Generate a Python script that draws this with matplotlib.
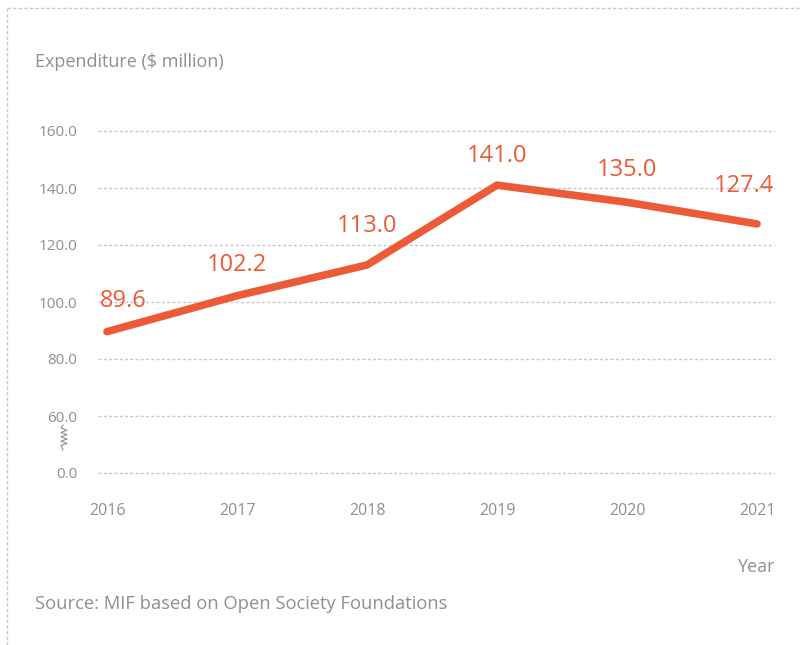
import matplotlib.pyplot as plt
from matplotlib.lines import Line2D

years = [2016, 2017, 2018, 2019, 2020, 2021]
spend = [89.6, 102.2, 113.0, 141.0, 135.0, 127.4]
tick_vals = [0, 60, 80, 100, 120, 140, 160]
tick_text = ['0.0', '60.0', '80.0', '100.0', '120.0', '140.0', '160.0']
# label nudges (points) for each data label
label_dx = [12, 0, 0, 0, 0, -9]
label_dy = [22, 22, 28, 21, 23, 27]

ORANGE = '#EC5A37'
GREY = '#8f8f8f'

plt.rcParams['font.family'] = ['Open Sans', 'DejaVu Sans']


def broken(v):
    # the axis jumps from 0 to 60, which sits one step (20) above 0
    return v if v >= 60 else v + 40


W, H = 803, 645
fig = plt.figure(figsize=(W / 100, H / 100), dpi=100)

ppu = 57 / 20.0
y_lo, y_hi = 35, 165
ax_bottom = 473 + (40 - y_lo) * ppu
ax_top = 131 - (y_hi - 160) * ppu
ax = fig.add_axes([98 / W, 1 - ax_bottom / H, (775 - 98) / W, (ax_bottom - ax_top) / H])
ax.set_ylim(y_lo, y_hi)
ax.set_xlim(2016 - 9 / 130, 2021 + 18 / 130)

for v in tick_vals:
    ax.axhline(broken(v), color='#c8c8c8', lw=1.0, ls=(0, (2.2, 1.6)), zorder=1)

ys = [broken(v) for v in spend]
ax.plot(years, ys, color=ORANGE, lw=5.5, solid_capstyle='round', solid_joinstyle='miter', zorder=3)

for x, y, v, dx, dy in zip(years, ys, spend, label_dx, label_dy):
    ax.annotate(f'{v:.1f}', (x, y), xytext=(dx, dy), textcoords='offset points',
                ha='center', va='center', color=ORANGE, fontsize=17)

ax.set_yticks([broken(v) for v in tick_vals])
ax.set_yticklabels(tick_text)
ax.set_xticks(years)
ax.set_xticklabels([str(y) for y in years])
ax.tick_params(axis='y', length=0, pad=15, labelsize=11, labelcolor=GREY)
ax.tick_params(axis='x', length=0, pad=11, labelsize=11.5, labelcolor=GREY)
for s in ax.spines.values():
    s.set_visible(False)

fig.text(35 / W, 1 - 62 / H, 'Expenditure ($ million)', ha='left', va='center', fontsize=13, color=GREY)
fig.text(775 / W, 1 - 567 / H, 'Year', ha='right', va='center', fontsize=13, color=GREY)
fig.text(35 / W, 1 - 604 / H, 'Source: MIF based on Open Society Foundations', ha='left', va='center',
         fontsize=13.2, color=GREY)

# axis-break zigzag between 0.0 and 60.0
zx, zy = [], []
for i in range(9):
    zx.append(64 + (3 if i % 2 else -3))
    zy.append(428 + i * 2.2)
zx = [63] + zx + [63]
zy = [425] + zy + [450]
fig.add_artist(Line2D([x / W for x in zx], [1 - y / H for y in zy], color=GREY, lw=0.8))

# dashed frame along top and left edges
fig.add_artist(Line2D([7 / W, 1], [1 - 8 / H, 1 - 8 / H], color='#c8c8c8', lw=1.0, ls=(0, (2.5, 1.5))))
fig.add_artist(Line2D([7 / W, 7 / W], [0, 1 - 8 / H], color='#c8c8c8', lw=1.0, ls=(0, (2.5, 1.5))))

fig.savefig('out.png', dpi=100)
